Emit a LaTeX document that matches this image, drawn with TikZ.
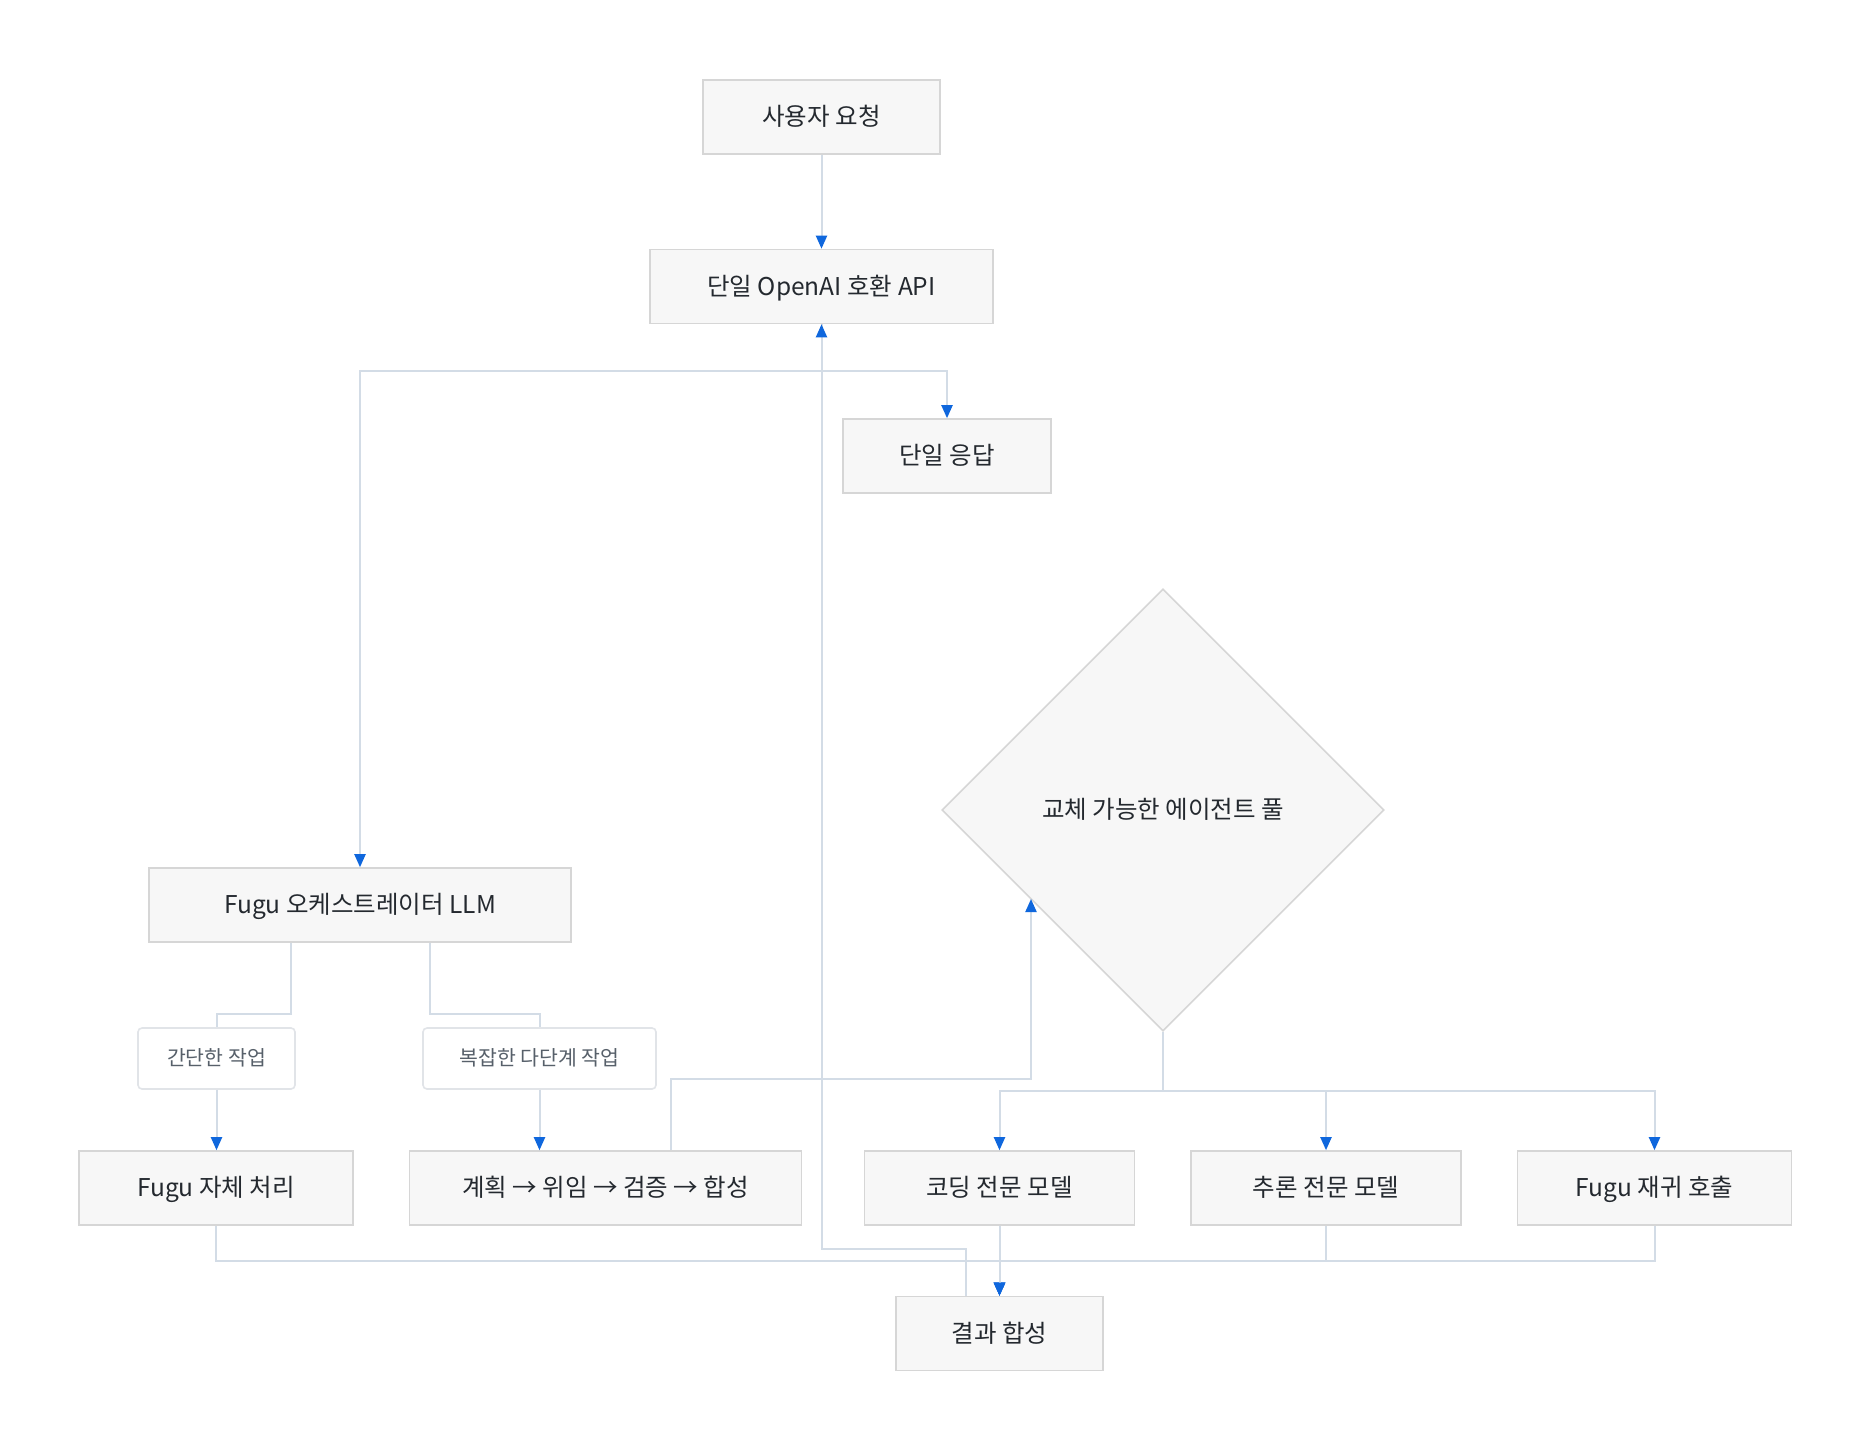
\documentclass[tikz,border=0pt]{standalone}
\usepackage{fontspec}
\setmainfont{Noto Sans CJK KR}
\usetikzlibrary{arrows.meta,shapes.geometric,calc}
\definecolor{boxfill}{HTML}{F7F7F7}
\definecolor{boxline}{HTML}{D6D6D6}
\definecolor{linec}{HTML}{D3DCE6}
\definecolor{arrowc}{HTML}{0F67DD}
\definecolor{textc}{HTML}{24292F}
\definecolor{lbltext}{HTML}{57606A}
\definecolor{lblline}{HTML}{E1E4E8}
\begin{document}
\begin{tikzpicture}[x=1pt,y=-1pt,
  box/.style={draw=boxline, fill=boxfill, line width=1.6pt, minimum height=74pt,
    inner sep=0pt, text height=19.6pt, text depth=2pt, text=textc,
    font=\fontsize{24.5}{29}\selectfont},
  lbl/.style={draw=lblline, fill=white, line width=1.6pt, rounded corners=4pt,
    minimum height=61pt, inner sep=0pt, text height=16.4pt, text depth=1.6pt,
    text=lbltext, font=\fontsize{20.5}{25}\selectfont},
  pool/.style={diamond, draw=boxline, fill=boxfill, line width=1.6pt, inner sep=0pt,
    minimum width=442pt, minimum height=442pt, text height=19.6pt, text depth=2pt,
    text=textc, font=\fontsize{24.5}{29}\selectfont},
  line/.style={draw=linec, line width=2pt},
  edge/.style={line, -{Triangle[length=13pt,width=11pt,color=arrowc,fill=arrowc]}}
]
\fill[white] (0,0) rectangle (1872,1451);
\useasboundingbox (0,0) rectangle (1872,1451);

% nodes
\node[box, minimum width=237pt] (req) at (821.5,117) {사용자 요청};
\node[box, minimum width=343pt] (api) at (821.5,286.5) {단일 OpenAI 호환 API};
\node[box, minimum width=208pt] (resp) at (947,456) {단일 응답};
\node[pool] (pool) at (1163,810) {교체 가능한 에이전트 풀};
\node[box, minimum width=422pt] (orch) at (360,905) {Fugu 오케스트레이터 LLM};
\node[lbl, minimum width=157pt] (lsimple) at (216.5,1058.5) {간단한 작업};
\node[lbl, minimum width=233pt] (lcomplex) at (539.5,1058.5) {복잡한 다단계 작업};
\node[box, minimum width=274pt] (self) at (216,1188) {Fugu 자체 처리};
\node[box, minimum width=392pt] (plan) at (605.5,1188) {계획 → 위임 → 검증 → 합성};
\node[box, minimum width=270pt] (code) at (999.5,1188) {코딩 전문 모델};
\node[box, minimum width=270pt] (reason) at (1326,1188) {추론 전문 모델};
\node[box, minimum width=274pt] (rec) at (1654.5,1188) {Fugu 재귀 호출};
\node[box, minimum width=207pt] (result) at (999.5,1333.5) {결과 합성};

% helper coordinates
\coordinate (splitA) at (821.5,371);
\coordinate (splitB) at (1163,1090.5);
\coordinate (joinC) at (999.5,1260.5);
\coordinate (poolin) at (1031,899);

% connectors
\draw[edge] (req) -- (api);
\draw[edge] (api.south) -- (splitA) -| (orch.north);
\draw[edge] (api.south) -- (splitA) -| (resp.north);

\draw[line] (orch.south -| 291,0) -- (291,1014) -| (lsimple.north);
\draw[edge] (lsimple.south) -- (lsimple.south |- self.north);
\draw[line] (orch.south -| 430,0) -- (430,1014) -| (lcomplex.north);
\draw[edge] (lcomplex.south) -- (lcomplex.south |- plan.north);

\draw[edge] (plan.north -| 671,0) -- (671,1078.5) -| (poolin);

\draw[edge] (pool.south) -- (splitB) -| (code.north);
\draw[edge] (pool.south) -- (splitB) -| (reason.north);
\draw[edge] (pool.south) -- (splitB) -| (rec.north);

\draw[edge] (self.south) |- (joinC) -- (result.north);
\draw[edge] (reason.south) |- (joinC) -- (result.north);
\draw[edge] (rec.south) |- (joinC) -- (result.north);
\draw[edge] (code.south) -- (result.north);

\draw[edge] (result.north -| 965.5,0) -- (965.5,1249) -| (api.south);
\end{tikzpicture}
\end{document}
